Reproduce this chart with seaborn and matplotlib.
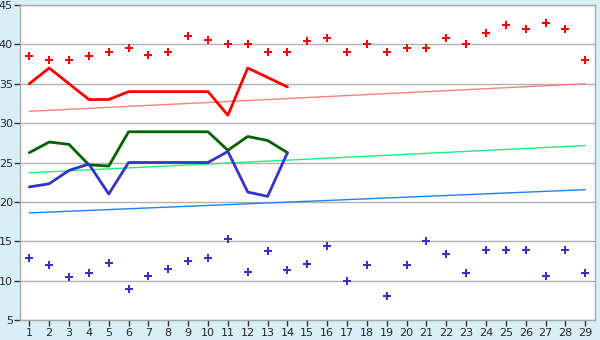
import matplotlib
matplotlib.use("Agg")
import matplotlib.pyplot as plt
import seaborn as sns
import pandas as pd
import numpy as np

days = list(range(1, 30))

red_points = [38.5, 38.0, 38.0, 38.5, 39.0, 39.5, 38.6, 39.0, 41.0, 40.5,
              40.0, 40.0, 39.0, 39.0, 40.4, 40.8, 39.0, 40.0, 39.0, 39.5,
              39.5, 40.8, 40.0, 41.4, 42.5, 42.0, 42.7, 42.0, 38.0]
blue_points = [12.9, 12.0, 10.5, 11.0, 12.3, 9.0, 10.6, 11.5, 12.5, 12.9,
               15.3, 11.1, 13.7, 11.4, 12.1, 14.4, 10.0, 12.0, 8.0, 12.0,
               15.0, 13.4, 11.0, 13.9, 13.9, 13.9, 10.6, 13.9, 11.0]

line_days = list(range(1, 15))
red_line = [35.0, 37.0, 35.0, 33.0, 33.0, 34.0, 34.0, 34.0, 34.0, 34.0, 31.0, 37.0, 35.8, 34.6]
green_line = [26.25, 27.6, 27.3, 24.7, 24.55, 28.9, 28.9, 28.9, 28.9, 28.9, 26.55, 28.3, 27.8, 26.25]
blue_line = [21.9, 22.3, 24.0, 24.8, 21.0, 25.0, 25.0, 25.0, 25.0, 25.0, 26.4, 21.25, 20.7, 26.25]

trend_days = [1, 29]
red_trend = [31.5, 35.0]
green_trend = [23.7, 27.15]
blue_trend = [18.6, 21.55]

yticks = [5, 10, 15, 20, 25, 30, 35, 40, 45]

sns.set_theme(style="white")
plt.rcParams['font.family'] = ['DejaVu Sans']

fig, ax = plt.subplots(figsize=(6, 3.4), dpi=100)
bg = "#d8eff6"
fig.patch.set_facecolor(bg)
ax.set_facecolor("white")
fig.subplots_adjust(left=0.0333, right=0.9917, top=0.9853, bottom=0.0588)

# trend lines
sns.lineplot(x=trend_days, y=red_trend, ax=ax, color="#ff7f7f", linewidth=1.0)
sns.lineplot(x=trend_days, y=green_trend, ax=ax, color="#19f07f", linewidth=1.0)
sns.lineplot(x=trend_days, y=blue_trend, ax=ax, color="#1f7fff", linewidth=1.0)

# main lines
sns.lineplot(x=line_days, y=red_line, ax=ax, color="#ff0000", linewidth=2)
sns.lineplot(x=line_days, y=green_line, ax=ax, color="#006400", linewidth=2)
sns.lineplot(x=line_days, y=blue_line, ax=ax, color="#3333cc", linewidth=2)

# scatter points
sns.scatterplot(x=days, y=red_points, ax=ax, color="#ff0000", marker="P", s=28, linewidth=0)
sns.scatterplot(x=days, y=blue_points, ax=ax, color="#3333cc", marker="P", s=28, linewidth=0)

ax.set_xlim(0.53, 29.49)
ax.set_ylim(5, 45)
ax.set_xticks(days)
ax.set_xticklabels([str(d) for d in days])
ax.set_yticks(yticks)
ax.set_yticklabels([str(v) for v in yticks])
ax.yaxis.grid(True, color="#b0b0b0", linewidth=1)
ax.xaxis.grid(False)
ax.set_axisbelow(True)
for s in ax.spines.values():
    s.set_color("#a8a8a8")
    s.set_linewidth(1)
ax.tick_params(axis="both", which="both", direction="out", length=4, width=1,
               color="#333333", labelsize=8, pad=2, left=True, bottom=True)
ax.tick_params(axis="y", pad=1)
ax.set_xlabel("")
ax.set_ylabel("")

fig.savefig("out.png", dpi=100, facecolor=bg)
